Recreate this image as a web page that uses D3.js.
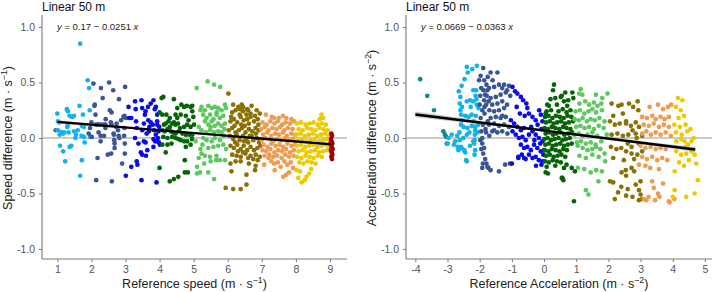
<!DOCTYPE html>
<html>
<head>
<meta charset="utf-8" />
<title>Linear 50 m</title>
<style>
html, body { margin: 0; padding: 0; background: #fff; }
svg text { font-family: "Liberation Sans", Arial, sans-serif; }
</style>
</head>
<body>
<div id="chart"></div>
<script src="https://cdnjs.cloudflare.com/ajax/libs/d3/7.8.5/d3.min.js"></script>
<script>
// ---- data ----
var yTicks = [-1, -0.5, 0, 0.5, 1]
var speedTicks = [1, 2, 3, 4, 5, 6, 7, 8, 9]
var accTicks = [-4, -3, -2, -1, 0, 1, 2, 3, 4, 5]

var colors = {
  teal: "#10898a", lightBlue: "#16b0eb", slate: "#3a5592", blue: "#0a0aea",
  darkGreen: "#056405", lightGreen: "#5cc85e", olive: "#8b7004",
  orange: "#f09a4e", gold: "#eec900", darkRed: "#a00000"
}

// speed panel
var speedTeal = [[0.95,0.07]]
var speedLightBlue = [[1.67,0.85],[1.89,0.52],[1.93,0.45],[1.0,0.22],[1.28,0.26],[1.31,0.24],[1.36,0.20],[1.44,0.19],[1.49,0.20],[1.65,0.29],[1.75,0.21],[1.95,0.25],[1.02,0.15],[1.05,0.14],[1.02,0.07],[1.07,0.03],[1.17,0.04],[1.20,0.05],[1.33,0.05],[1.49,0.06],[1.29,0.10],[1.31,0.12],[1.72,0.11],[1.78,0.10],[1.71,0.02],[1.78,0.01],[1.96,0.01],[1.55,0.03],[1.53,0.0],[1.80,-0.04],[1.08,-0.07],[1.17,-0.12],[1.36,-0.08],[1.41,-0.07],[1.23,-0.21],[1.72,-0.20],[1.67,-0.34],[1.12,0.05],[1.60,0.07]]
var speedSlate = [[2.06,0.49],[2.52,0.50],[2.28,0.45],[2.64,0.43],[2.99,0.46],[2.33,0.36],[2.81,0.35],[2.09,0.29],[2.12,0.21],[2.42,0.17],[2.59,0.23],[2.59,0.12],[2.74,0.13],[2.87,0.16],[2.94,0.19],[3.01,0.18],[2.13,0.12],[2.22,0.12],[2.28,0.12],[2.37,0.12],[2.41,0.12],[1.96,0.09],[2.41,0.09],[2.21,0.05],[2.27,0.02],[2.37,0.02],[2.66,0.03],[2.80,0.02],[2.97,0.09],[2.96,0.02],[2.01,0.01],[2.18,-0.18],[2.48,-0.15],[2.58,-0.14],[2.68,-0.09],[2.98,-0.14],[2.98,-0.05],[2.90,-0.23],[2.14,-0.38],[2.60,-0.39],[2.27,-0.03],[2.67,-0.02],[2.54,0.25],[2.00,0.14],[2.65,0.04],[2.73,0.10],[2.78,0.07],[2.82,0.0],[2.97,0.20],[2.68,-0.05],[1.92,0.04],[2.17,0.12],[2.57,0.14],[2.10,0.30]]
var speedBlue = [[3.09,0.28],[3.28,0.33],[3.30,0.26],[3.47,0.34],[3.49,0.27],[3.59,0.24],[3.57,0.21],[3.66,0.28],[3.74,0.31],[3.82,0.34],[3.86,0.26],[3.89,0.28],[3.67,0.16],[3.74,0.14],[3.93,0.21],[3.93,0.15],[3.11,0.18],[3.17,0.18],[3.31,0.15],[3.54,0.13],[3.80,0.12],[3.93,0.12],[3.99,0.10],[3.33,0.09],[3.49,0.07],[3.62,0.04],[3.69,0.06],[3.84,0.07],[3.89,0.03],[3.97,0.06],[3.28,0.0],[3.54,-0.03],[3.59,-0.04],[3.82,-0.01],[3.87,-0.03],[3.93,-0.03],[3.98,-0.04],[3.38,-0.05],[3.45,-0.13],[3.49,-0.15],[3.64,-0.11],[3.60,-0.16],[3.82,-0.08],[3.17,-0.26],[3.33,-0.21],[3.35,-0.24],[3.47,-0.38],[3.91,-0.40],[4.01,-0.06],[3.01,-0.34],[3.70,0.10],[3.95,0.0]]
var speedDarkGreen = [[4.06,0.36],[4.11,0.37],[4.42,0.35],[4.52,0.27],[4.64,0.30],[4.72,0.28],[4.80,0.29],[4.91,0.28],[4.96,0.29],[4.00,0.23],[4.08,0.21],[4.20,0.21],[4.30,0.18],[4.47,0.21],[4.52,0.18],[4.62,0.21],[4.77,0.20],[4.96,0.24],[4.99,0.19],[4.13,0.12],[4.18,0.13],[4.26,0.15],[4.37,0.13],[4.42,0.14],[4.47,0.12],[4.54,0.13],[4.72,0.10],[4.81,0.12],[4.91,0.10],[5.01,0.12],[4.08,0.07],[4.15,0.06],[4.23,0.08],[4.33,0.06],[4.40,0.05],[4.47,0.04],[4.57,0.06],[4.67,0.04],[4.77,0.03],[4.87,0.03],[4.96,0.03],[4.11,0.01],[4.23,0.0],[4.37,0.01],[4.47,0.0],[4.62,-0.02],[4.72,-0.03],[4.81,-0.03],[4.08,-0.06],[4.23,-0.06],[4.35,-0.05],[4.77,-0.08],[4.91,-0.06],[4.18,-0.13],[4.74,-0.20],[4.00,-0.27],[4.30,-0.39],[4.42,-0.37],[4.55,-0.35],[4.74,-0.31],[4.83,-0.31],[4.60,0.09],[4.85,0.16],[4.30,0.10],[4.55,-0.01],[4.95,-0.01]]
var speedLightGreen = [[5.09,0.45],[5.41,0.51],[5.60,0.48],[5.78,0.46],[5.23,0.28],[5.33,0.25],[5.43,0.29],[5.53,0.27],[5.62,0.28],[5.72,0.27],[5.82,0.25],[5.92,0.30],[5.95,0.27],[5.28,0.21],[5.38,0.18],[5.48,0.21],[5.58,0.17],[5.67,0.21],[5.77,0.18],[5.87,0.20],[5.33,0.15],[5.43,0.12],[5.53,0.15],[5.62,0.11],[5.72,0.13],[5.82,0.11],[5.92,0.13],[5.23,0.07],[5.36,0.05],[5.48,0.07],[5.60,0.05],[5.72,0.06],[5.82,0.05],[5.28,0.0],[5.38,-0.02],[5.53,-0.03],[5.62,0.0],[5.77,-0.02],[5.26,-0.06],[5.43,-0.09],[5.58,-0.08],[5.72,-0.07],[5.87,-0.06],[5.23,-0.14],[5.33,-0.16],[5.48,-0.17],[5.67,-0.16],[5.31,-0.23],[5.50,-0.21],[5.66,-0.20],[5.77,-0.20],[5.92,-0.20],[5.60,-0.37],[5.20,0.25],[5.06,-0.03],[5.20,-0.10],[5.15,-0.18],[5.10,-0.26],[5.10,-0.32],[5.19,-0.31],[5.43,-0.31],[5.90,0.08],[5.95,-0.10],[5.15,0.10],[5.68,0.23],[5.50,0.10],[5.88,0.02]]
var speedOlive = [[6.02,0.40],[6.16,0.30],[6.31,0.28],[6.41,0.30],[6.45,0.28],[6.60,0.25],[6.70,0.29],[6.85,0.25],[6.94,0.22],[6.13,0.23],[6.23,0.25],[6.36,0.26],[6.45,0.24],[6.57,0.26],[6.67,0.22],[6.08,0.15],[6.18,0.17],[6.28,0.14],[6.38,0.19],[6.47,0.16],[6.57,0.17],[6.67,0.19],[6.77,0.15],[6.88,0.17],[6.03,0.07],[6.13,0.09],[6.23,0.05],[6.33,0.07],[6.42,0.09],[6.52,0.05],[6.62,0.08],[6.72,0.06],[6.82,0.09],[6.91,0.07],[6.06,0.02],[6.16,-0.01],[6.26,0.03],[6.35,-0.02],[6.45,0.02],[6.55,-0.01],[6.65,0.02],[6.75,-0.02],[6.85,0.0],[6.95,-0.01],[6.08,-0.07],[6.18,-0.09],[6.28,-0.06],[6.38,-0.10],[6.47,-0.07],[6.57,-0.11],[6.67,-0.08],[6.77,-0.11],[6.87,-0.09],[6.96,-0.07],[6.13,-0.15],[6.26,-0.16],[6.38,-0.17],[6.52,-0.14],[6.67,-0.16],[6.82,-0.15],[6.94,-0.17],[6.08,-0.23],[6.23,-0.21],[6.38,-0.21],[6.62,-0.23],[6.82,-0.25],[6.11,-0.30],[6.55,-0.33],[5.94,-0.45],[6.16,-0.46],[6.38,-0.46],[6.55,-0.42],[6.80,-0.29],[6.50,0.11],[6.90,0.12],[6.20,0.11],[6.60,-0.04],[6.30,-0.12],[6.75,-0.19],[6.10,0.19],[6.35,0.21],[6.55,0.21],[6.80,0.20],[6.40,0.12],[6.62,0.13],[6.83,0.04],[6.70,0.02],[6.48,-0.03],[6.22,-0.04],[6.92,-0.04],[6.45,-0.13],[6.60,-0.18],[6.88,-0.20]]
var speedOrange = [[7.12,0.21],[7.29,0.19],[7.36,0.18],[7.50,0.18],[7.72,0.18],[7.87,0.17],[7.62,0.20],[7.07,-0.24],[7.38,-0.29],[7.63,-0.35],[7.72,-0.33],[7.80,-0.31],[7.92,-0.27],[7.36,-0.23],[7.20,-0.18],[7.55,-0.26],[7.85,-0.22],
  [7.02,0.14],[7.14,0.12],[7.25,0.15],[7.37,0.13],[7.47,0.15],[7.60,0.12],[7.70,0.14],[7.83,0.13],[7.95,0.15],
  [6.98,0.08],[7.09,0.10],[7.20,0.07],[7.31,0.09],[7.43,0.08],[7.54,0.10],[7.66,0.07],[7.77,0.09],[7.90,0.08],
  [7.04,0.03],[7.16,0.05],[7.27,0.02],[7.39,0.04],[7.50,0.03],[7.62,0.05],[7.73,0.02],[7.86,0.04],[7.97,0.03],
  [7.00,-0.02],[7.11,0.00],[7.22,-0.01],[7.34,-0.03],[7.45,-0.01],[7.57,-0.02],[7.68,0.00],[7.80,-0.02],[7.92,-0.01],
  [7.05,-0.06],[7.17,-0.08],[7.28,-0.05],[7.40,-0.07],[7.52,-0.06],[7.63,-0.08],[7.75,-0.05],[7.87,-0.07],[7.98,-0.06],
  [7.02,-0.11],[7.13,-0.12],[7.25,-0.10],[7.37,-0.13],[7.48,-0.11],[7.60,-0.12],[7.71,-0.10],[7.83,-0.13],[7.94,-0.11],
  [7.08,-0.16],[7.22,-0.15],[7.33,-0.17],[7.45,-0.16],[7.58,-0.18],[7.69,-0.15],[7.80,-0.17],[7.93,-0.16],
  [7.28,-0.21],[7.47,-0.22],[7.66,-0.21],[7.75,-0.24]]
var speedGold = [[8.75,0.21],[8.80,0.18],[8.70,0.17],[8.07,-0.36],[8.17,-0.40],[8.26,-0.38],[8.31,-0.35],[8.39,-0.32],[8.02,-0.29],[8.45,-0.28],[8.12,-0.30],
  [8.03,0.13],[8.15,0.14],[8.28,0.12],[8.40,0.13],[8.52,0.14],[8.64,0.12],[8.76,0.13],[8.88,0.12],
  [8.08,0.08],[8.20,0.07],[8.33,0.09],[8.45,0.08],[8.57,0.07],[8.69,0.09],[8.81,0.08],[8.93,0.07],
  [8.02,0.03],[8.14,0.04],[8.26,0.02],[8.38,0.03],[8.50,0.04],[8.62,0.02],[8.74,0.03],[8.86,0.04],[8.97,0.02],
  [8.07,-0.02],[8.19,-0.01],[8.31,-0.03],[8.43,-0.02],[8.55,-0.01],[8.67,-0.03],[8.79,-0.02],[8.91,-0.01],
  [8.03,-0.07],[8.15,-0.06],[8.27,-0.08],[8.39,-0.07],[8.51,-0.06],[8.63,-0.08],[8.75,-0.07],[8.87,-0.06],[8.98,-0.08],
  [8.08,-0.12],[8.20,-0.11],[8.32,-0.13],[8.44,-0.12],[8.56,-0.11],[8.68,-0.13],[8.80,-0.12],[8.92,-0.11],
  [8.04,-0.17],[8.16,-0.18],[8.28,-0.16],[8.40,-0.17],[8.52,-0.18],[8.64,-0.16],[8.76,-0.17],
  [8.10,-0.22],[8.22,-0.23],[8.34,-0.21],[8.46,-0.22],[8.58,-0.23]]
var speedDarkRed = [[9.04,0.04],[9.06,0.02],[9.03,-0.01],[9.05,-0.03],[9.07,-0.05],[9.04,-0.07],[9.06,-0.09],[9.03,-0.11],[9.05,-0.13],[9.07,-0.15],[9.04,-0.17],[9.06,-0.19],[9.02,-0.04],[9.08,-0.10]]

// acceleration panel
var accTeal = [[-3.85,0.53],[-3.63,0.38],[-3.42,0.25],[-3.13,0.06],[-3.04,0.01],[-3.02,-0.05],[-3.08,0.03]]
var accLightBlue = [[-2.09,0.65],[-2.23,0.62],[-2.37,0.59],[-2.40,0.64],[-2.47,0.53],[-2.56,0.47],[-2.60,0.37],[-2.62,0.31],[-2.60,0.25],[-2.58,0.21],[-2.56,0.16],[-2.58,0.12],[-2.40,0.33],[-2.30,0.34],[-2.20,0.33],[-2.09,0.30],[-2.04,0.27],[-2.45,0.20],[-2.35,0.19],[-2.25,0.21],[-2.12,0.20],[-2.50,0.10],[-2.38,0.09],[-2.25,0.11],[-2.14,0.10],[-2.14,0.07],[-2.15,0.03],[-2.16,-0.02],[-2.17,-0.05],[-2.11,0.43],[-2.20,0.43],[-2.13,0.38],[-2.87,0.03],[-2.97,0.0],[-2.99,-0.05],[-2.76,-0.03],[-2.66,-0.11],[-2.56,-0.09],[-2.45,-0.13],[-2.40,-0.21],[-2.16,-0.15],[-2.51,0.0],[-2.40,0.03],[-2.68,-0.08],[-2.58,-0.08],[-2.48,-0.11],[-2.42,-0.20],[-2.30,-0.07],[-2.20,-0.03],[-2.14,-0.11],[-2.63,0.05],[-2.70,0.02],[-2.28,0.28],[-2.18,0.15],[-2.07,0.05],[-2.65,0.42],[-2.55,0.28],[-2.32,0.05],[-2.05,0.12],[-2.10,0.35],[-2.62,-0.02],[-2.80,-0.06]]
var accSlate = [[-1.89,0.63],[-1.66,0.59],[-1.45,0.59],[-1.86,0.52],[-1.79,0.48],[-1.76,0.43],[-1.83,0.39],[-1.86,0.34],[-1.71,0.45],[-1.55,0.46],[-1.40,0.48],[-1.24,0.48],[-1.09,0.47],[-1.66,0.36],[-1.50,0.37],[-1.35,0.39],[-1.19,0.41],[-1.61,0.30],[-1.45,0.31],[-1.30,0.33],[-1.55,0.24],[-1.40,0.25],[-1.24,0.27],[-1.66,0.18],[-1.50,0.19],[-1.35,0.18],[-1.19,0.19],[-1.71,0.12],[-1.55,0.13],[-1.40,0.11],[-1.24,0.12],[-1.09,0.10],[-1.61,0.06],[-1.45,0.05],[-1.30,0.06],[-1.14,0.04],[-1.95,0.45],[-1.98,0.38],[-2.0,0.30],[-1.92,0.25],[-1.97,0.18],[-1.90,0.12],[-1.95,0.06],[-1.85,0.22],[-1.80,0.30],[-1.75,0.15],[-1.82,0.08],[-1.92,0.0],[-1.70,0.02],[-1.92,-0.05],[-1.86,-0.09],[-1.89,-0.14],[-1.83,-0.19],[-1.79,-0.23],[-1.76,-0.26],[-1.92,-0.27],[-1.66,-0.29],[-1.40,-0.30],[-1.21,-0.24],[-1.06,-0.23],[-1.73,-0.27],[-1.90,-0.23],[-1.95,-0.10],[-1.98,-0.02],[-2.02,0.52],[-1.97,0.56],[-1.75,0.55],[-1.60,0.52],[-1.30,0.45],[-1.15,0.43],[-1.05,0.38],[-1.85,0.28],[-1.72,0.33],[-1.78,0.38],[-1.88,0.43],[-1.70,0.25],[-1.30,0.20],[-1.15,0.30],[-1.80,0.05],[-1.55,0.07]]
var accBlue = [[-0.98,0.46],[-0.90,0.42],[-0.83,0.40],[-0.72,0.37],[-0.65,0.34],[-0.55,0.31],[-0.52,0.27],[-0.47,0.22],[-0.36,0.19],[-0.26,0.16],[-0.10,0.21],[-0.05,0.15],[-1.03,0.16],[-0.93,0.13],[-0.83,0.10],[-0.72,0.07],[-0.62,0.09],[-0.98,0.06],[-0.88,0.03],[-0.78,0.0],[-0.67,0.01],[-0.57,-0.02],[-0.47,0.03],[-0.36,0.06],[-0.26,0.03],[-0.16,0.0],[-0.05,-0.03],[-0.72,-0.06],[-0.62,-0.09],[-0.52,-0.08],[-0.41,-0.11],[-0.31,-0.06],[-0.21,-0.09],[-0.10,-0.12],[0.0,-0.11],[-0.47,-0.15],[-0.36,-0.18],[-0.26,-0.17],[-0.16,-0.20],[-0.05,-0.21],[-0.80,-0.18],[-0.62,-0.18],[-1.0,-0.23],[-0.80,-0.17],[-0.69,-0.15],[-0.57,-0.19],[-0.15,0.25],[-0.08,0.08],[-0.20,0.12],[-0.12,-0.05],[-0.30,-0.02],[-0.40,0.10],[-0.02,-0.15],[-0.08,-0.24],[-0.25,-0.25],[-0.6,0.20],[-0.85,0.28],[-0.75,0.22]]
var accDarkGreen = [[0.31,0.48],[0.28,0.43],[0.52,0.37],[0.62,0.33],[0.75,0.34],[0.88,0.41],[0.91,0.36],[0.57,-0.36],[0.62,-0.27],[0.93,-0.57],[0.05,-0.31],[0.12,-0.32],[0.55,-0.36],[0.60,-0.38],[0.86,-0.27],[0.96,-0.30],[0.10,0.30],[0.05,0.22],[0.40,0.30],[0.20,0.35],[0.55,0.38],[0.66,0.41],[0.72,0.29],[0.35,0.36],[0.15,0.29],
  [0.08,0.24],[0.22,0.25],[0.45,0.24],[0.58,0.26],[0.70,0.23],[0.82,0.25],
  [0.03,0.19],[0.14,0.20],[0.26,0.18],[0.37,0.20],[0.49,0.19],[0.61,0.18],[0.73,0.20],[0.85,0.19],
  [0.06,0.14],[0.18,0.15],[0.30,0.13],[0.41,0.14],[0.53,0.15],[0.65,0.13],[0.77,0.14],[0.90,0.15],
  [0.02,0.09],[0.12,0.08],[0.24,0.10],[0.35,0.09],[0.47,0.08],[0.59,0.10],[0.70,0.09],[0.82,0.08],
  [0.05,0.04],[0.16,0.05],[0.28,0.03],[0.39,0.04],[0.51,0.05],[0.63,0.03],[0.75,0.04],[0.87,0.05],
  [0.01,-0.01],[0.11,0.00],[0.22,-0.02],[0.33,-0.01],[0.45,0.00],[0.57,-0.02],[0.68,-0.01],[0.80,0.00],
  [0.04,-0.06],[0.15,-0.05],[0.27,-0.07],[0.38,-0.06],[0.50,-0.05],[0.62,-0.07],[0.74,-0.06],[0.86,-0.05],
  [0.02,-0.11],[0.13,-0.12],[0.24,-0.10],[0.36,-0.11],[0.48,-0.12],[0.60,-0.10],[0.71,-0.11],
  [0.06,-0.16],[0.18,-0.15],[0.30,-0.17],[0.42,-0.16],[0.54,-0.15],[0.66,-0.17],
  [0.03,-0.21],[0.15,-0.22],[0.27,-0.20],[0.40,-0.21],[0.52,-0.22],
  [0.08,-0.26],[0.35,-0.25],[0.70,-0.24]]
var accLightGreen = [[1.14,0.44],[1.09,0.40],[1.19,0.39],[1.61,0.39],[1.81,0.36],[1.97,0.40],
  [1.10,0.31],[1.28,0.33],[1.40,0.30],[1.55,0.32],[1.66,0.29],[1.78,0.31],
  [0.98,0.24],[1.12,0.25],[1.25,0.22],[1.38,0.24],[1.50,0.26],[1.62,0.23],[1.80,0.25],
  [0.95,0.17],[1.08,0.16],[1.20,0.18],[1.33,0.15],[1.45,0.17],[1.58,0.16],[1.72,0.18],[1.88,0.15],
  [1.00,0.10],[1.13,0.11],[1.26,0.09],[1.40,0.10],[1.55,0.08],[1.70,0.11],[1.85,0.09],
  [0.95,0.03],[1.08,0.04],[1.20,0.02],[1.35,0.03],[1.50,0.05],[1.65,0.02],[1.95,0.03],
  [1.02,-0.04],[1.15,-0.03],[1.30,-0.05],[1.45,-0.04],[1.60,-0.06],[1.78,-0.03],
  [1.05,-0.07],[1.20,-0.09],[1.35,-0.11],[1.50,-0.10],[1.62,-0.08],[1.75,-0.10],
  [1.10,-0.16],[1.30,-0.18],[1.50,-0.15],[1.70,-0.17],[1.88,-0.14],
  [1.05,-0.27],[1.25,-0.28],[1.45,-0.31],[1.62,-0.29],[1.80,-0.30],[1.90,-0.21],
  [1.30,-0.47],[1.38,-0.51],[1.69,-0.39]]
var accOlive = [[2.10,0.31],[2.31,0.29],[2.41,0.30],[2.64,0.31],[2.91,0.33],[2.77,0.28],[2.93,0.25],[2.05,0.15],[2.20,0.12],[2.35,0.13],[2.55,0.15],[2.70,0.11],[2.85,0.14],[2.95,0.10],[2.15,0.20],[2.45,0.22],[2.10,0.03],[2.28,0.04],[2.45,0.02],[2.62,0.03],[2.85,0.04],[3.05,0.02],[2.08,-0.08],[2.25,-0.10],[2.40,-0.09],[2.55,-0.12],[2.72,-0.08],[2.90,-0.15],[2.15,-0.18],[2.48,-0.20],[2.80,-0.19],[3.05,-0.12],[2.41,-0.31],[2.54,-0.29],[2.72,-0.27],[2.05,-0.39],[2.15,-0.40],[2.40,-0.44],[2.60,-0.46],[2.85,-0.42],[3.00,-0.39],[2.30,-0.49],[2.55,-0.52],[2.75,-0.53],[3.00,-0.51],[2.95,-0.56],[2.20,-0.55],[2.55,0.13],[2.75,0.07],[2.88,0.0],[2.60,-0.05],[2.72,-0.14],[2.95,-0.05],[2.55,-0.34],[2.80,-0.30],[2.95,-0.47],[3.05,-0.55]]
var accOrange = [[3.28,0.28],[3.54,0.30],[3.70,0.26],[3.85,0.28],[3.95,0.30],
  [3.05,0.19],[3.20,0.18],[3.36,0.20],[3.47,0.17],[3.62,0.19],[3.75,0.17],[3.88,0.19],
  [3.10,0.12],[3.26,0.11],[3.41,0.13],[3.57,0.10],[3.72,0.12],[3.88,0.10],
  [3.05,0.04],[3.18,0.06],[3.32,0.03],[3.47,0.05],[3.62,0.03],[3.78,0.05],[3.94,0.02],
  [3.00,-0.07],[3.15,-0.09],[3.31,-0.08],[3.47,-0.10],[3.62,-0.09],[3.78,-0.10],
  [3.05,-0.17],[3.20,-0.19],[3.36,-0.17],[3.52,-0.20],[3.67,-0.18],[3.83,-0.20],
  [2.95,-0.24],[3.15,-0.25],[3.30,-0.27],[3.57,-0.28],
  [3.36,-0.39],[3.41,-0.45],[3.54,-0.50],[3.70,-0.41],[3.18,-0.56],[3.59,-0.53],[3.88,-0.57],[3.10,-0.55],[3.25,-0.53],[3.45,-0.56],[3.90,-0.58],[4.05,-0.55]]
var accGold = [[4.16,0.36],[4.30,0.34],[4.10,0.28],[4.25,0.25],[4.18,0.18],[4.35,0.20],[4.05,0.12],[4.22,0.10],[4.40,0.12],[4.10,0.05],[4.28,0.03],[4.45,0.06],[4.11,-0.03],[4.26,-0.01],[4.37,-0.03],[4.47,-0.06],[4.58,-0.03],[4.65,0.0],[4.11,-0.12],[4.26,-0.15],[4.42,-0.14],[4.58,-0.12],[4.68,-0.15],[4.73,-0.23],[4.78,-0.38],[4.68,-0.50],[4.42,-0.53],[4.06,-0.47],[4.0,-0.53],[4.06,-0.30],[4.20,-0.22],[4.35,-0.25],[4.5,-0.20],[4.55,0.08],[4.40,-0.08]]

// fitted lines and their confidence band half-widths at a few x positions
var speedFit = { a: 0.17, b: -0.0251, label: "0.17 \u2212 0.0251" }
var speedBand = [[1.0, 0.016], [3.0, 0.010], [5.0, 0.007], [7.0, 0.009], [9.05, 0.014]]
var accFit = { a: 0.0669, b: -0.0363, label: "0.0669 \u2212 0.0363" }
var accBand = [[-4.0, 0.026], [-2.0, 0.016], [0.3, 0.008], [2.5, 0.012], [4.7, 0.022]]

var panels = [
  {
    x0: 42, x1: 347, xDomain: [0.55, 9.5], xTicks: speedTicks,
    groups: [[speedTeal, "teal"], [speedLightBlue, "lightBlue"], [speedSlate, "slate"], [speedBlue, "blue"], [speedDarkGreen, "darkGreen"], [speedLightGreen, "lightGreen"], [speedOlive, "olive"], [speedOrange, "orange"], [speedGold, "gold"], [speedDarkRed, "darkRed"]],
    fit: speedFit, band: speedBand,
    yTitle: ["Speed difference (m \u00b7 s", "\u22121", ")"],
    xTitle: ["Reference speed (m \u00b7 s", "\u22121", ")"]
  },
  {
    x0: 406, x1: 712, xDomain: [-4.29, 5.22], xTicks: accTicks,
    groups: [[accTeal, "teal"], [accLightBlue, "lightBlue"], [accSlate, "slate"], [accBlue, "blue"], [accDarkGreen, "darkGreen"], [accLightGreen, "lightGreen"], [accOlive, "olive"], [accOrange, "orange"], [accGold, "gold"]],
    fit: accFit, band: accBand,
    yTitle: ["Acceleration difference (m \u00b7 s", "\u22122", ")"],
    xTitle: ["Reference Acceleration (m \u00b7 s", "\u22122", ")"]
  }
]

var W = 714, H = 292
var yTop = 15, yBot = 259

var svg = d3.select("#chart").append("svg")
    .attr("width", W).attr("height", H)

svg.append("rect").attr("width", W).attr("height", H).attr("fill", "#fff")

function titleText(g, parts, size) {
    g.append("tspan").text(parts[0])
    g.append("tspan").attr("dy", -5).attr("font-size", size * 0.7).text(parts[1])
    g.append("tspan").attr("dy", 5).text(parts[2])
}

panels.forEach(function(p) {
    var x = d3.scaleLinear().domain(p.xDomain).range([p.x0, p.x1])
    var y = d3.scaleLinear().domain([-1.09, 1.108]).range([yBot, yTop])
    var g = svg.append("g")

    // zero reference line
    g.append("line")
        .attr("x1", p.x0).attr("x2", p.x1)
        .attr("y1", y(0)).attr("y2", y(0))
        .attr("stroke", "#8c8c8c").attr("stroke-width", 0.9)

    // points
    p.groups.forEach(function(grp) {
        g.append("g").selectAll("circle").data(grp[0]).enter()
            .append("circle")
            .attr("cx", function(d) { return x(d[0]) })
            .attr("cy", function(d) { return y(d[1]) })
            .attr("r", 2.35)
            .attr("fill", colors[grp[1]])
    })

    // confidence band + fitted line
    var area = d3.area()
        .curve(d3.curveMonotoneX)
        .x(function(d) { return x(d[0]) })
        .y0(function(d) { return y(p.fit.a + p.fit.b * d[0] - d[1]) })
        .y1(function(d) { return y(p.fit.a + p.fit.b * d[0] + d[1]) })
    g.append("path").datum(p.band).attr("d", area)
        .attr("fill", "#9a9a9a").attr("fill-opacity", 0.55)

    var xs = [p.band[0][0], p.band[p.band.length - 1][0]]
    g.append("line")
        .attr("x1", x(xs[0])).attr("y1", y(p.fit.a + p.fit.b * xs[0]))
        .attr("x2", x(xs[1])).attr("y2", y(p.fit.a + p.fit.b * xs[1]))
        .attr("stroke", "#000").attr("stroke-width", 2.4)

    // axes
    var ax = g.append("g").attr("transform", "translate(0," + yBot + ")")
        .call(d3.axisBottom(x).tickValues(p.xTicks).tickSize(3).tickPadding(4).tickFormat(d3.format("d")))
    var ay = g.append("g").attr("transform", "translate(" + p.x0 + ",0)")
        .call(d3.axisLeft(y).tickValues(yTicks).tickSize(3).tickPadding(4).tickFormat(d3.format(".1f")))
    ;[ax, ay].forEach(function(a) {
        a.select(".domain").attr("stroke", "#7a7a7a").attr("stroke-width", 1.1)
        a.selectAll(".tick line").attr("stroke", "#7a7a7a")
        a.selectAll(".tick text").attr("fill", "#555").attr("font-size", 10.5)
            .attr("font-family", "Liberation Sans, Arial, sans-serif")
            .text(function(d) { return (a === ay ? d3.format(".1f")(d) : d3.format("d")(d)).replace("\u2212", "-") })
    })
    ax.select(".domain").attr("d", "M" + p.x0 + ",0H" + p.x1)
    ay.select(".domain").attr("d", "M0," + yTop + "V" + yBot)

    // panel title and equation
    g.append("text").attr("x", p.x0).attr("y", 11)
        .attr("font-size", 12).attr("fill", "#111").text("Linear 50 m")

    var eq = g.append("text").attr("x", p.x0 + 15).attr("y", 30)
        .attr("font-size", 9.5).attr("fill", "#222")
    eq.append("tspan").attr("font-style", "italic").text("y")
    eq.append("tspan").text(" = " + p.fit.label + " ")
    eq.append("tspan").attr("font-style", "italic").text("x")

    // axis titles
    var xt = g.append("text").attr("x", (p.x0 + p.x1) / 2).attr("y", 288)
        .attr("text-anchor", "middle").attr("font-size", 12.5).attr("fill", "#222")
    titleText(xt, p.xTitle, 12.5)

    var cx = p.x0 - 30
    var yt = g.append("text")
        .attr("transform", "translate(" + cx + "," + y(0) + ") rotate(-90)")
        .attr("text-anchor", "middle").attr("font-size", 12.5).attr("fill", "#222")
    titleText(yt, p.yTitle, 12.5)
})
</script>
</body>
</html>
